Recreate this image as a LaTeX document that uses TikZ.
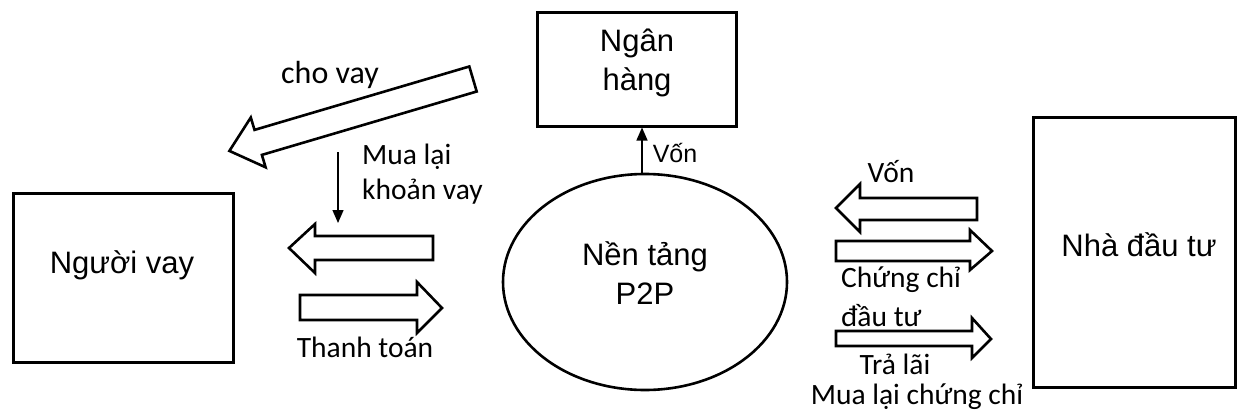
\documentclass[tikz,border=0pt]{standalone}
\usepackage{fontspec}
\usetikzlibrary{shapes.geometric,arrows.meta}
\newfontfamily\arialf{Liberation Sans}
\newfontfamily\calf{Carlito}
\begin{document}
\begin{tikzpicture}[x=1pt,y=-1pt,
  boxst/.style={draw,line width=3pt,inner sep=0pt},
  artext/.style={inner sep=0pt,font=\arialf\fontsize{31}{39}\selectfont},
  catext/.style={inner sep=0pt,font=\calf\fontsize{29.5}{37}\selectfont},
  blockarrow/.style={draw,line width=2.6pt,fill=white,line join=miter},
  thinarrow/.style={draw,line width=1.4pt,-{Triangle[length=13pt,width=11pt]}}]
\useasboundingbox (0,0) rectangle (1238,415);
\fill[white] (0,0) rectangle (1238,415);

% boxes
\node[boxst,minimum width=220pt,minimum height=169pt] (borrower) at (123,277.5) {};
\node[artext] (borrowertxt) at (122,265) {Người vay};
\node[boxst,minimum width=199pt,minimum height=114pt] (bank) at (636.5,69) {};
\node[artext,align=center] (banktxt) at (637,63) {Ngân\\hàng};
\node[draw,line width=2.6pt,ellipse,inner sep=0pt,minimum width=284pt,minimum height=216pt] (p2p) at (645,282) {};
\node[artext,align=center] (p2ptxt) at (645,273) {Nền tảng\\P2P};
\node[boxst,minimum width=202pt,minimum height=270pt] (investor) at (1134,252) {};
\node[artext] (investortxt) at (1139,245) {Nhà đầu tư};

% bank <- p2p
\coordinate (vonbot) at (642,174);
\draw[thinarrow] (vonbot) -- (vonbot |- bank.south);
\node[artext,font=\arialf\fontsize{25}{30}\selectfont] (vonbank) at (675,153) {Vốn};

% cho vay big arrow
\draw[blockarrow] (469.3,66.5) -- (254.5,129.9) -- (250.8,117.5) -- (229.4,150.9)
  -- (265.6,167.3) -- (261.9,154.9) -- (476.7,91.5) -- cycle;
\node[catext,font=\calf\fontsize{32}{37}\selectfont] (chovay) at (330,75) {cho vay};

% mua lai khoan vay
\coordinate (mlstart) at (338,152);
\coordinate (mlend) at (338,223);
\draw[thinarrow] (mlstart) -- (mlend);
\node[catext,align=left,anchor=west] (mualai) at (362,174) {Mua lại\\[-2pt]khoản vay};

% borrower arrows
\draw[blockarrow] (433,236) -- (315,236) -- (315,224) -- (289,248) -- (315,273) -- (315,260) -- (433,260) -- cycle;
\draw[blockarrow] (300,295) -- (417,295) -- (417,282) -- (442,308) -- (417,333) -- (417,320) -- (300,320) -- cycle;
\node[catext] (thanhtoan) at (365,347) {Thanh toán};

% investor arrows
\draw[blockarrow] (977,198) -- (860,198) -- (860,184) -- (836,208) -- (860,232) -- (860,220) -- (977,220) -- cycle;
\node[catext] (voninv) at (891,172) {Vốn};
\draw[blockarrow] (836,241) -- (970,241) -- (970,230) -- (992,251) -- (970,270) -- (970,261) -- (836,261) -- cycle;
\node[catext,align=left,anchor=west] (chungchi) at (841,297) {Chứng chỉ\\[2pt]đầu tư};
\draw[blockarrow] (836,331) -- (972,331) -- (972,318) -- (991,339) -- (972,358) -- (972,346) -- (836,346) -- cycle;
\node[catext] (tralai) at (895,364) {Trả lãi};
\node[catext] (mualaicc) at (917,397) {Mua lại chứng chỉ};
\end{tikzpicture}
\end{document}
